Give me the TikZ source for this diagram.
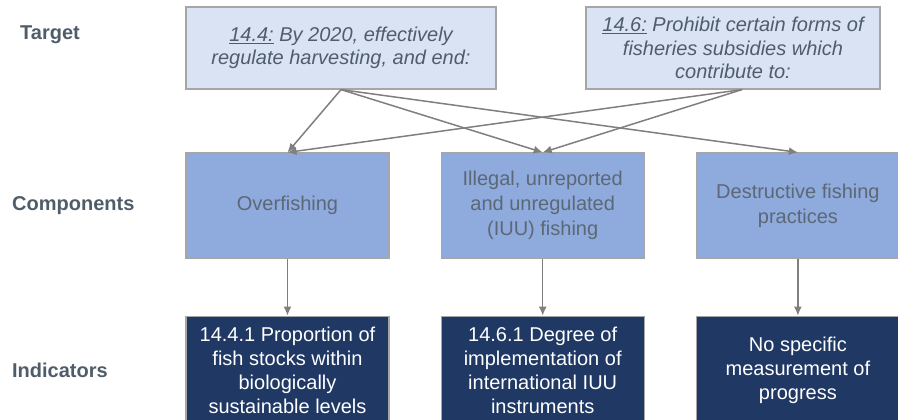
\documentclass[tikz,border=0pt]{standalone}
\usepackage{fontspec}
\setmainfont{Liberation Sans}
\usepackage{tikz}
\usetikzlibrary{arrows.meta}
\usetikzlibrary{positioning}
\usetikzlibrary{chains}
\definecolor{slate}{HTML}{4F5D6B}
\definecolor{paleblue}{HTML}{DAE3F3}
\definecolor{midblue}{HTML}{8FAADC}
\definecolor{navy}{HTML}{203864}
\definecolor{edgegray}{HTML}{A6A6A6}
\definecolor{linegray}{HTML}{7F7F7F}
\definecolor{comptext}{HTML}{5B6876}
\newcommand{\cnode}[2]{\node(#1)[comp]{#2}}
\newcommand{\inode}[2]{\node(#1)[indic]{#2}}
\newcommand{\rowlabel}[2]{\node(#1)[rowname]{#2}}

\begin{document}
\begin{tikzpicture}[
        start chain,
        x=1pt, y=-1pt,
        >={Latex[length=9pt,width=8pt]},
        every node/.style={font=\fontsize{20}{24}\selectfont},
        target/.style={rectangle,minimum height=82pt,draw=edgegray,line width=1.2pt,
                     fill=paleblue,text=slate,align=center,
                     font=\fontsize{20}{23.5}\selectfont\itshape},
        comp/.style={rectangle,minimum height=105pt,minimum width=203pt,
                     draw=edgegray,line width=1.2pt,fill=midblue,text=comptext,align=center,
                     font=\fontsize{20}{25}\selectfont},
        indic/.style={rectangle,minimum height=108pt,minimum width=203pt,
                     draw=edgegray,line width=1.2pt,fill=navy,text=white,align=center},
        rowname/.style={rectangle,inner sep=0pt,anchor=west,text=slate,
                     font=\fontsize{20}{24}\selectfont\bfseries},
        link/.style={draw=linegray,line width=1.5pt,->}
      ]
      \useasboundingbox (0,0) rectangle (898,420);
      \node(t1)[target,minimum width=310pt] at (341,48) {\underline{14.4:} By 2020, effectively\\ regulate harvesting, and end:};
      \node(t2)[target,minimum width=294pt] at (733,48) {\underline{14.6:} Prohibit certain forms of\\ fisheries subsidies which\\ contribute to:};
      \node(lt)[rowname] at (20,35) {Target};
      \matrix[matrix anchor=c1.center, row sep=57pt, column sep=51pt] at (287.5,205.5) {
        \rowlabel{lc}{Components}; & \cnode{c1}{Overfishing}; & \cnode{c2}{Illegal, unreported\\ and unregulated\\ (IUU) fishing}; & \cnode{c3}{Destructive fishing\\ practices}; \\
        \rowlabel{li}{Indicators}; & \inode{i1}{14.4.1 Proportion of\\ fish stocks within\\ biologically\\ sustainable levels}; & \inode{i2}{14.6.1 Degree of\\ implementation of\\ international IUU\\ instruments}; & \inode{i3}{No specific\\ measurement of\\ progress}; \\
      };
      \begin{scope}[start chain=drop1] \chainin(c1); \chainin(i1) [join=by link]; \end{scope}
      \begin{scope}[start chain=drop2] \chainin(c2); \chainin(i2) [join=by link]; \end{scope}
      \begin{scope}[start chain=drop3] \chainin(c3); \chainin(i3) [join=by link]; \end{scope}
      \draw[link] (t1.south) -- (c1.north);
      \draw[link] (t1.south) -- (c2.north);
      \draw[link] (t1.south) -- (c3.north);
      \draw[link] ([xshift=9pt]t2.south) -- (c1.north);
      \draw[link] ([xshift=9pt]t2.south) -- (c2.north);
    \end{tikzpicture}
\end{document}
